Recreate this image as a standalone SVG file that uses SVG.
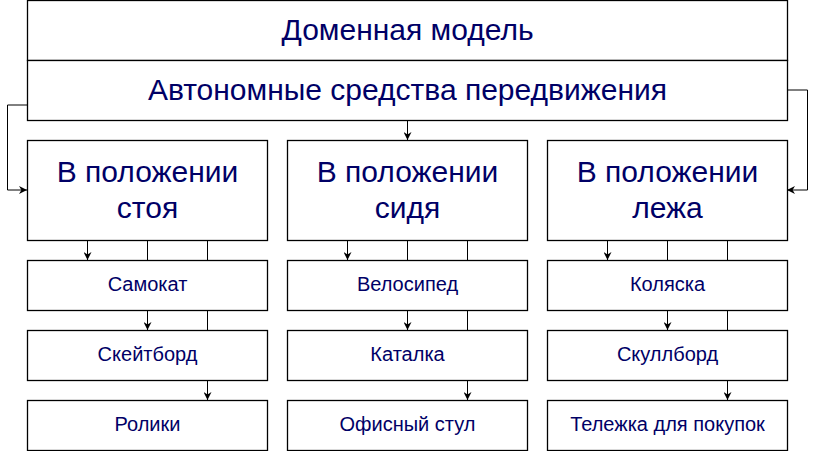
<svg xmlns="http://www.w3.org/2000/svg" width="816" height="451" viewBox="0 0 816 451">
<defs>
<marker id="arr" viewBox="0 0 10 10" refX="10" refY="5" markerWidth="8" markerHeight="8" markerUnits="userSpaceOnUse" orient="auto">
<path d="M0,0 L10,5 L0,10 L3,5 Z" fill="#000"/>
</marker>
<style>
rect{fill:#fff;stroke:#000;stroke-width:1.3}
.c{fill:none;stroke:#000;stroke-width:1}
.a{marker-end:url(#arr)}
text{font-family:"Liberation Sans",Arial,sans-serif;fill:#000066;text-anchor:middle}
.t1{font-size:30px}
.t2{font-size:30px}
.t3{font-size:20px}
</style>
</defs>
<g id="connectors">
<path class="c a" d="M27,105 H7.5 V190 H27"/>
<path class="c a" d="M787,90 H807.5 V190 H787"/>
<path class="c a" d="M407.5,120 V140"/>
<path class="c a" d="M87.5,240 V260"/>
<path class="c a" d="M147.5,240 V330"/>
<path class="c a" d="M207.5,240 V400"/>
<path class="c a" d="M347.5,240 V260"/>
<path class="c a" d="M407.5,240 V330"/>
<path class="c a" d="M467.5,240 V400"/>
<path class="c a" d="M607.5,240 V260"/>
<path class="c a" d="M667.5,240 V330"/>
<path class="c a" d="M727.5,240 V400"/>
</g>
<g id="domain">
<rect x="27.5" y="0.5" width="760" height="60"/>
<text class="t1" x="407.5" y="40">Доменная модель</text>
</g>
<g id="autonomous">
<rect x="27.5" y="60.5" width="760" height="60"/>
<text class="t1" x="407.5" y="100">Автономные средства передвижения</text>
</g>
<g id="standing">
<rect x="27.5" y="140.5" width="240" height="100"/>
<text class="t2" x="147.5" y="182">В положении</text>
<text class="t2" x="147.5" y="218">стоя</text>
</g>
<g id="sitting">
<rect x="287.5" y="140.5" width="240" height="100"/>
<text class="t2" x="407.5" y="182">В положении</text>
<text class="t2" x="407.5" y="218">сидя</text>
</g>
<g id="lying">
<rect x="547.5" y="140.5" width="240" height="100"/>
<text class="t2" x="667.5" y="182">В положении</text>
<text class="t2" x="667.5" y="218">лежа</text>
</g>
<g id="scooter"><rect x="27.5" y="260.5" width="240" height="50"/><text class="t3" x="147.5" y="291">Самокат</text></g>
<g id="skateboard"><rect x="27.5" y="330.5" width="240" height="50"/><text class="t3" x="147.5" y="361">Скейтборд</text></g>
<g id="rollers"><rect x="27.5" y="400.5" width="240" height="50"/><text class="t3" x="147.5" y="431">Ролики</text></g>
<g id="bicycle"><rect x="287.5" y="260.5" width="240" height="50"/><text class="t3" x="407.5" y="291">Велосипед</text></g>
<g id="gurney"><rect x="287.5" y="330.5" width="240" height="50"/><text class="t3" x="407.5" y="361">Каталка</text></g>
<g id="office-chair"><rect x="287.5" y="400.5" width="240" height="50"/><text class="t3" x="407.5" y="431">Офисный стул</text></g>
<g id="stroller"><rect x="547.5" y="260.5" width="240" height="50"/><text class="t3" x="667.5" y="291">Коляска</text></g>
<g id="skullboard"><rect x="547.5" y="330.5" width="240" height="50"/><text class="t3" x="667.5" y="361">Скуллборд</text></g>
<g id="cart"><rect x="547.5" y="400.5" width="240" height="50"/><text class="t3" x="667.5" y="431">Тележка для покупок</text></g>
</svg>
